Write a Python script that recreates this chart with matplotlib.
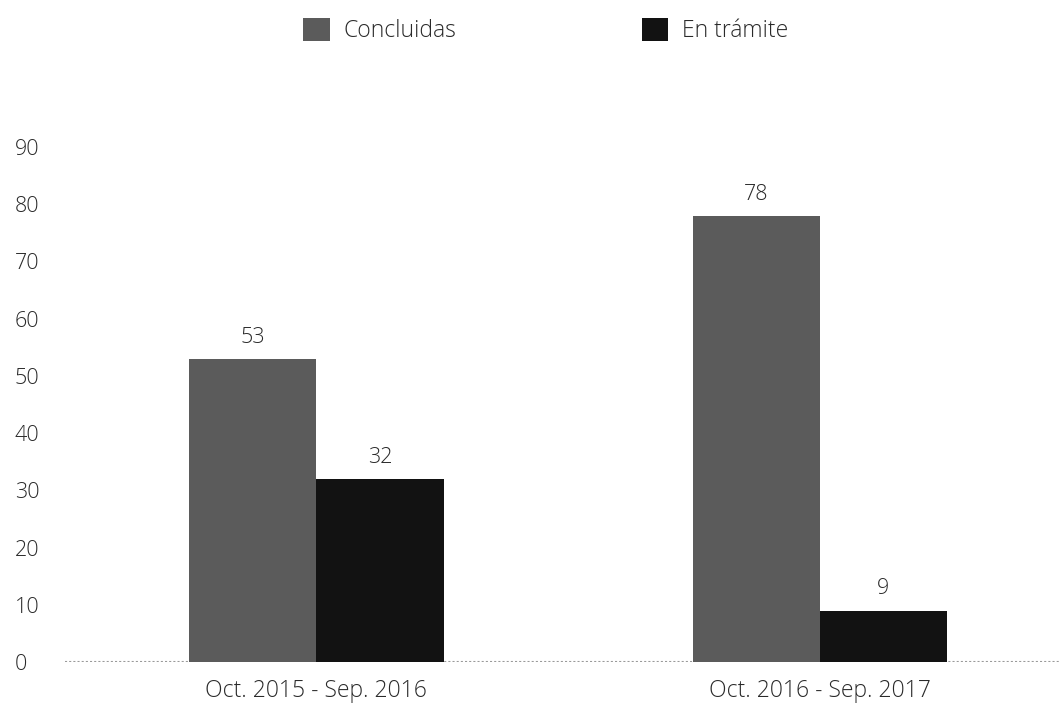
import matplotlib
matplotlib.use('Agg')
import matplotlib.pyplot as plt
from matplotlib.patches import Patch
import numpy as np

# Data
periods = ["Oct. 2015 - Sep. 2016", "Oct. 2016 - Sep. 2017"]
concluidas = [53, 78]
en_tramite = [32, 9]
series_names = ["Concluidas", "En trámite"]
y_ticks = [0, 10, 20, 30, 40, 50, 60, 70, 80, 90]

color_concl = "#5b5b5b"
color_tram = "#121212"
text_color = "#2a2a2a"

plt.rcParams['font.family'] = ['Open Sans', 'DejaVu Sans']
plt.rcParams['font.weight'] = 'light'
FS = 15.5      # numbers
FS_TXT = 16.5  # category and legend text

fig = plt.figure(figsize=(10.6, 7.07), dpi=100)
ax = fig.add_axes([0.061, 0.0636, 0.939, 0.7284])

x = np.arange(len(periods))
width = 0.2525

bars1 = ax.bar(x - width / 2, concluidas, width, color=color_concl)
bars2 = ax.bar(x + width / 2, en_tramite, width, color=color_tram)

# value labels above each bar
for bars, vals in [(bars1, concluidas), (bars2, en_tramite)]:
    for b, v in zip(bars, vals):
        ax.annotate(str(v),
                    xy=(b.get_x() + b.get_width() / 2, v),
                    xytext=(0, 8), textcoords="offset points",
                    ha="center", va="bottom",
                    fontsize=FS, color=text_color)

ax.set_xlim(-0.5, 1.477)
ax.set_ylim(0, 90)

ax.set_xticks(x)
ax.set_xticklabels(periods, fontsize=FS_TXT, color=text_color)
ax.set_yticks(y_ticks)
ax.set_yticklabels([str(t) for t in y_ticks], fontsize=FS, color=text_color)
for lbl in ax.get_yticklabels():
    lbl.set_ha("left")

ax.tick_params(axis="y", length=0, pad=36)
ax.tick_params(axis="x", length=0, pad=12)

for s in ax.spines.values():
    s.set_visible(False)

# baseline
ax.axhline(0, color="#9a9a9a", lw=1.5, linestyle=(0, (1, 1)), zorder=0)

handles = [Patch(facecolor=color_concl), Patch(facecolor=color_tram)]
fig.legend(handles, series_names,
           loc="center", bbox_to_anchor=(0.515, 0.957),
           ncol=2, frameon=False, fontsize=FS_TXT,
           handlelength=1.15, handleheight=1.15,
           handletextpad=0.6, columnspacing=8.1,
           labelcolor=text_color)

fig.savefig("out.png", dpi=100)
